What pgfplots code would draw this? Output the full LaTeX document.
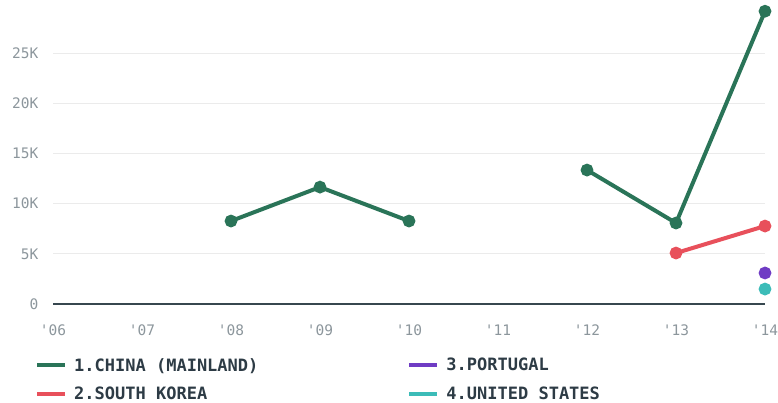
\documentclass[border=0pt]{standalone}
\usepackage{pgfplots}
\pgfplotsset{compat=1.18}
\usepackage{fontspec}
\setmainfont{DejaVu Sans Mono}
\definecolor{cchina}{HTML}{2A7458}
\definecolor{ckorea}{HTML}{E8505B}
\definecolor{cport}{HTML}{6F3CC4}
\definecolor{cus}{HTML}{3CBCB8}
\definecolor{axisdark}{HTML}{37474F}
\definecolor{gridc}{HTML}{EBEBEB}
\definecolor{tickc}{HTML}{8C969C}
\definecolor{legc}{HTML}{2D3B45}
\begin{document}
\begin{tikzpicture}[x=1pt,y=1pt]
\begin{axis}[
  at={(0,0)}, anchor=origin,
  scale only axis, width=712pt, height=301pt,
  xmin=6, xmax=14, ymin=0, ymax=30000,
  axis lines=left,
  axis line style={draw=none},
  clip=false,
  scaled y ticks=false,
  xtick={6,...,14},
  xticklabels={\textquotesingle06,\textquotesingle07,\textquotesingle08,\textquotesingle09,\textquotesingle10,\textquotesingle11,\textquotesingle12,\textquotesingle13,\textquotesingle14},
  ytick={0,5000,10000,15000,20000,25000},
  yticklabels={0,5K,10K,15K,20K,25K},
  tick style={draw=none},
  ticklabel style={font=\fontsize{14.5}{16}\selectfont, text=tickc},
  xticklabel style={yshift=-15pt},
  yticklabel style={xshift=-9pt},
  ymajorgrids, grid style={gridc, line width=1.2pt},
  unbounded coords=jump,
  legend columns=2, transpose legend,
  legend style={at={(-21pt,-50pt)}, anchor=north west, draw=none, fill=none,
    font=\bfseries\fontsize{17}{19}\selectfont, text=legc,
    row sep=10pt, /tikz/column 2/.style={column sep=147pt}},
  legend cell align=left,
  legend image code/.code={\draw[line width=4pt, #1] (0pt,0pt) -- (28pt,0pt); \path (33pt,0pt);},
]
\draw[axisdark, line width=2.5pt] (axis cs:6,0) -- (axis cs:14,0);
\addplot[cchina, line width=4pt, mark=*, mark size=4.3pt, mark options={fill=cchina}] coordinates {(8,8270) (9,11650) (10,8270) (11,nan) (12,13350) (13,8070) (14,29180)};
\addlegendentry{1.CHINA (MAINLAND)}
\addplot[ckorea, line width=4pt, mark=*, mark size=4.3pt, mark options={fill=ckorea}] coordinates {(13,5080) (14,7770)};
\addlegendentry{2.SOUTH KOREA}
\addplot[cport, line width=4pt, mark=*, mark size=4.3pt, mark options={fill=cport}] coordinates {(14,3090)};
\addlegendentry{3.PORTUGAL}
\addplot[cus, line width=4pt, mark=*, mark size=4.3pt, mark options={fill=cus}] coordinates {(14,1490)};
\addlegendentry{4.UNITED STATES}
\end{axis}
\pgfresetboundingbox
\path (-53pt,-99pt) rectangle (725pt,304pt);
\end{tikzpicture}
\end{document}
